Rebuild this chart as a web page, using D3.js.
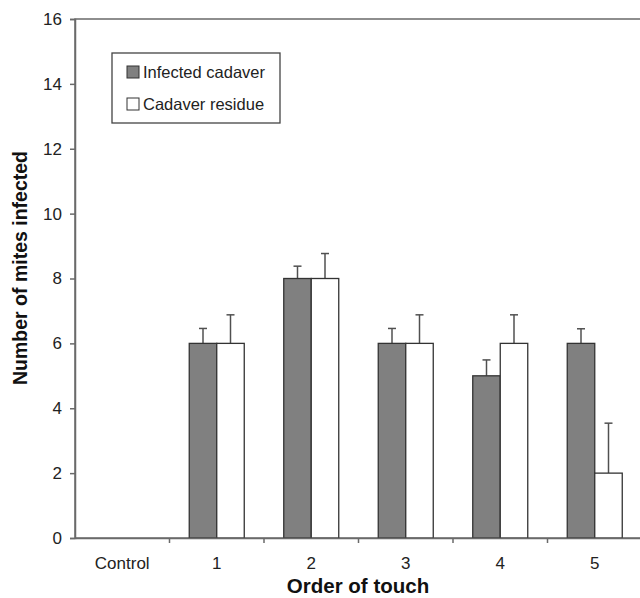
<!DOCTYPE html>
<html>
<head>
<meta charset="utf-8">
<script src="https://cdn.jsdelivr.net/npm/d3@7/dist/d3.min.js"></script>
<style>
  body { margin: 0; background: #fff; }
  svg { display: block; font-family: "Liberation Sans", Arial, sans-serif; }
</style>
</head>
<body>
<svg id="chart"></svg>
<script>
// categories and series
const categories = ["Control", "1", "2", "3", "4", "5"];
const seriesNames = ["Infected cadaver", "Cadaver residue"];
const infectedCadaver = [null, 6, 8, 6, 5, 6];
const infectedCadaverErr = [null, 0.46, 0.38, 0.46, 0.49, 0.45];
const cadaverResidue = [null, 6, 8, 6, 6, 2];
const cadaverResidueErr = [null, 0.88, 0.77, 0.88, 0.88, 1.54];
const yTicks = [0, 2, 4, 6, 8, 10, 12, 14, 16];

function drawBarChart(svgSelector, width, height) {
    const svg = d3.select(svgSelector)
        .attr("width", width)
        .attr("height", height);

    const left = 75, right = 642, top = 19, bottom = 538;
    const axisColor = "#6a6a6a";

    const x = d3.scaleBand()
        .domain(categories)
        .range([left, right]);

    const bw = x.bandwidth();
    const x1 = d3.scaleBand()
        .domain(seriesNames)
        .range([bw / 2 - 27.5, bw / 2 + 27.5]);

    const y = d3.scaleLinear()
        .domain([0, 16])
        .range([bottom, top]);

    const fills = { "Infected cadaver": "#808080", "Cadaver residue": "#ffffff" };

    // plot frame
    svg.append("rect")
        .attr("x", left).attr("y", top)
        .attr("width", right - left).attr("height", bottom - top)
        .attr("fill", "none")
        .attr("stroke", axisColor)
        .attr("stroke-width", 1.5);

    // build rows for bars
    const rows = [];
    categories.forEach((c, i) => {
        if (infectedCadaver[i] != null) {
            rows.push({ cat: c, series: seriesNames[0], value: infectedCadaver[i], err: infectedCadaverErr[i] });
        }
        if (cadaverResidue[i] != null) {
            rows.push({ cat: c, series: seriesNames[1], value: cadaverResidue[i], err: cadaverResidueErr[i] });
        }
    });

    // error bars (upper only)
    const eb = svg.append("g")
        .attr("stroke", "#505050")
        .attr("stroke-width", 1.5);
    rows.forEach(d => {
        const cx = x(d.cat) + x1(d.series) + x1.bandwidth() / 2;
        eb.append("line")
            .attr("x1", cx).attr("x2", cx)
            .attr("y1", y(d.value)).attr("y2", y(d.value + d.err));
        eb.append("line")
            .attr("x1", cx - 4).attr("x2", cx + 4)
            .attr("y1", y(d.value + d.err)).attr("y2", y(d.value + d.err));
    });

    // bars
    svg.append("g").selectAll("rect")
        .data(rows)
        .enter().append("rect")
        .attr("x", d => x(d.cat) + x1(d.series))
        .attr("y", d => y(d.value))
        .attr("width", x1.bandwidth())
        .attr("height", d => y(0) - y(d.value))
        .attr("fill", d => fills[d.series])
        .attr("stroke", "#333")
        .attr("stroke-width", 1.3);

    // y axis
    const yAxis = svg.append("g")
        .attr("transform", `translate(${left},0)`)
        .call(d3.axisLeft(y).tickValues(yTicks).tickSize(5).tickPadding(8));
    yAxis.select(".domain").attr("stroke", axisColor).attr("stroke-width", 1.5);
    yAxis.selectAll(".tick line").attr("stroke", axisColor).attr("stroke-width", 1.5);
    yAxis.selectAll(".tick text")
        .attr("font-size", "17px")
        .attr("font-family", "Liberation Sans, Arial, sans-serif")
        .attr("fill", "#222");

    // x axis with ticks at category boundaries
    const xAxis = svg.append("g")
        .attr("transform", `translate(0,${bottom})`)
        .call(d3.axisBottom(x).tickSize(0).tickPadding(19));
    xAxis.select(".domain").attr("stroke", axisColor).attr("stroke-width", 1.5);
    xAxis.selectAll(".tick text")
        .attr("font-size", "17px")
        .attr("font-family", "Liberation Sans, Arial, sans-serif")
        .attr("fill", "#222");
    xAxis.selectAll(".boundary")
        .data(categories.slice(1))
        .enter().append("line")
        .attr("class", "boundary")
        .attr("x1", d => x(d)).attr("x2", d => x(d))
        .attr("y1", 0).attr("y2", 5)
        .attr("stroke", axisColor)
        .attr("stroke-width", 1.5);

    // axis titles
    svg.append("text")
        .attr("x", 358)
        .attr("y", 593)
        .attr("text-anchor", "middle")
        .attr("font-size", "20.5px")
        .attr("font-weight", "bold")
        .attr("fill", "#111")
        .text("Order of touch");

    svg.append("text")
        .attr("transform", `translate(27,268) rotate(-90)`)
        .attr("text-anchor", "middle")
        .attr("font-size", "19.5px")
        .attr("font-weight", "bold")
        .attr("fill", "#111")
        .text("Number of mites infected");

    // legend
    const lg = svg.append("g");
    lg.append("rect")
        .attr("x", 112).attr("y", 53)
        .attr("width", 168).attr("height", 70)
        .attr("fill", "#fff")
        .attr("stroke", "#444")
        .attr("stroke-width", 1.3);
    seriesNames.forEach((s, i) => {
        const yy = 72 + i * 32;
        lg.append("rect")
            .attr("x", 127).attr("y", yy - 6)
            .attr("width", 12).attr("height", 12)
            .attr("fill", fills[s])
            .attr("stroke", "#333")
            .attr("stroke-width", 1);
        lg.append("text")
            .attr("x", 143).attr("y", yy + 6)
            .attr("font-size", "16.5px")
            .attr("fill", "#222")
            .text(s);
    });
}

drawBarChart("#chart", 640, 598);
</script>
</body>
</html>
